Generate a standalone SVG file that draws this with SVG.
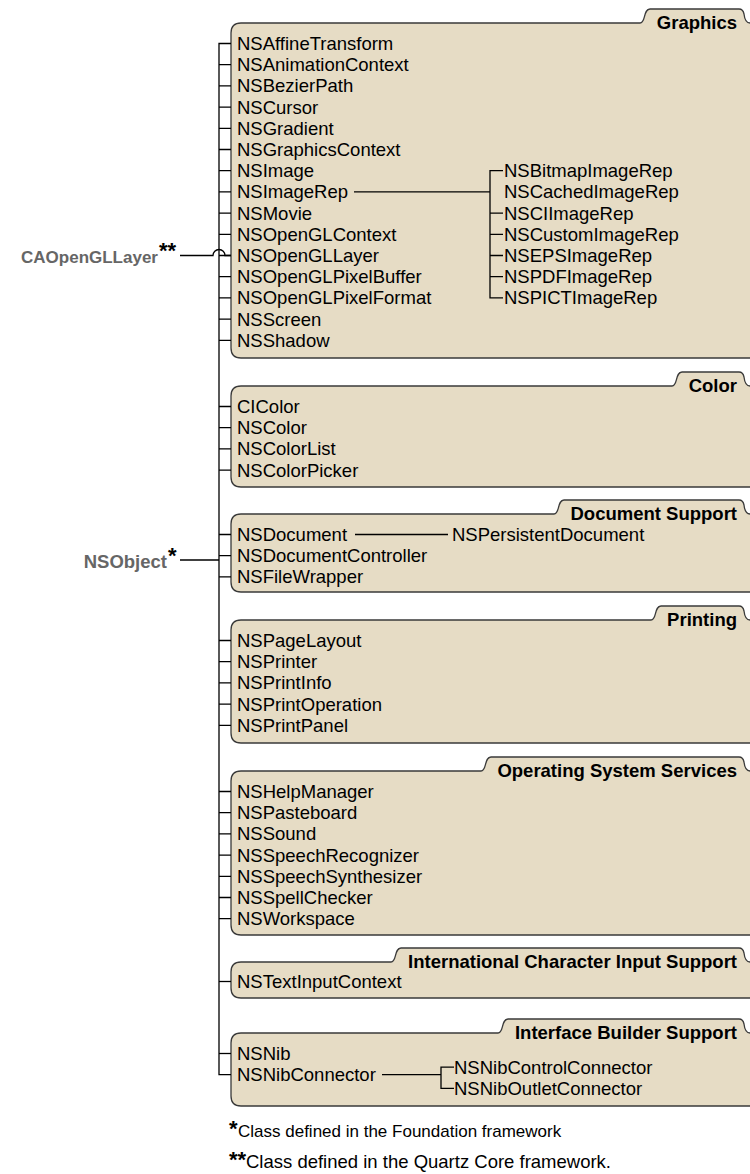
<svg xmlns="http://www.w3.org/2000/svg" width="750" height="1174" viewBox="0 0 750 1174">
<style>
.box{fill:#E6DCC5;stroke:#3a3a3a;stroke-width:1.3}
.t{font-family:"Liberation Sans",Arial,sans-serif;font-size:18.5px;fill:#000}
.fn{font-family:"Liberation Sans",Arial,sans-serif;font-size:17px;fill:#000}
.tab{font-family:"Liberation Sans",Arial,sans-serif;font-size:18.5px;font-weight:bold;fill:#000;text-anchor:end}
.root{font-family:"Liberation Sans",Arial,sans-serif;font-size:18.5px;font-weight:bold;fill:#666;text-anchor:end}
.ast{font-family:"Liberation Sans",Arial,sans-serif;font-size:22px;font-weight:bold;fill:#000}
.c{fill:none;stroke:#000;stroke-width:1.3}
</style>
<rect width="750" height="1174" fill="#fff"/>

<g id="graphics">
<path class="box" d="M231,33 Q231,23 241,23 L640,23 C646,23 643,9 650,9 L739,9 Q743,9 744,14 Q745,23 750,23 L752,23 L752,358 L241,358 Q231,358 231,348 Z"/>
<text class="tab" x="737" y="28.5">Graphics</text>
<text class="t" x="237" y="50">NSAffineTransform</text>
<text class="t" x="237" y="71.2">NSAnimationContext</text>
<text class="t" x="237" y="92.4">NSBezierPath</text>
<text class="t" x="237" y="113.6">NSCursor</text>
<text class="t" x="237" y="134.8">NSGradient</text>
<text class="t" x="237" y="156">NSGraphicsContext</text>
<text class="t" x="237" y="177.2">NSImage</text>
<text class="t" x="237" y="198.4">NSImageRep</text>
<text class="t" x="237" y="219.6">NSMovie</text>
<text class="t" x="237" y="240.8">NSOpenGLContext</text>
<text class="t" x="237" y="262">NSOpenGLLayer</text>
<text class="t" x="237" y="283.2">NSOpenGLPixelBuffer</text>
<text class="t" x="237" y="304.4">NSOpenGLPixelFormat</text>
<text class="t" x="237" y="325.6">NSScreen</text>
<text class="t" x="237" y="346.8">NSShadow</text>
<text class="t" x="504" y="177.2">NSBitmapImageRep</text>
<text class="t" x="504" y="198.4">NSCachedImageRep</text>
<text class="t" x="504" y="219.6">NSCIImageRep</text>
<text class="t" x="504" y="240.8">NSCustomImageRep</text>
<text class="t" x="504" y="262">NSEPSImageRep</text>
<text class="t" x="504" y="283.2">NSPDFImageRep</text>
<text class="t" x="504" y="304.4">NSPICTImageRep</text>
</g>

<g id="color">
<path class="box" d="M231,396 Q231,386 241,386 L672,386 C678,386 675,372 682,372 L739,372 Q743,372 744,377 Q745,386 750,386 L752,386 L752,487 L241,487 Q231,487 231,477 Z"/>
<text class="tab" x="737" y="391.5">Color</text>
<text class="t" x="237" y="413">CIColor</text>
<text class="t" x="237" y="434.2">NSColor</text>
<text class="t" x="237" y="455.4">NSColorList</text>
<text class="t" x="237" y="476.6">NSColorPicker</text>
</g>

<g id="document">
<path class="box" d="M231,524 Q231,514 241,514 L554,514 C560,514 557,500 564,500 L739,500 Q743,500 744,505 Q745,514 750,514 L752,514 L752,592 L241,592 Q231,592 231,582 Z"/>
<text class="tab" x="737" y="519.5">Document Support</text>
<text class="t" x="237" y="541">NSDocument</text>
<text class="t" x="237" y="562.2">NSDocumentController</text>
<text class="t" x="237" y="583.4">NSFileWrapper</text>
<text class="t" x="452" y="541">NSPersistentDocument</text>
</g>

<g id="printing">
<path class="box" d="M231,630 Q231,620 241,620 L651,620 C657,620 654,606 661,606 L739,606 Q743,606 744,611 Q745,620 750,620 L752,620 L752,743 L241,743 Q231,743 231,733 Z"/>
<text class="tab" x="737" y="625.5">Printing</text>
<text class="t" x="237" y="647">NSPageLayout</text>
<text class="t" x="237" y="668.2">NSPrinter</text>
<text class="t" x="237" y="689.4">NSPrintInfo</text>
<text class="t" x="237" y="710.6">NSPrintOperation</text>
<text class="t" x="237" y="731.8">NSPrintPanel</text>
</g>

<g id="os-services">
<path class="box" d="M231,781 Q231,771 241,771 L481,771 C487,771 484,757 491,757 L739,757 Q743,757 744,762 Q745,771 750,771 L752,771 L752,935 L241,935 Q231,935 231,925 Z"/>
<text class="tab" x="737" y="776.5">Operating System Services</text>
<text class="t" x="237" y="798">NSHelpManager</text>
<text class="t" x="237" y="819.2">NSPasteboard</text>
<text class="t" x="237" y="840.4">NSSound</text>
<text class="t" x="237" y="861.6">NSSpeechRecognizer</text>
<text class="t" x="237" y="882.8">NSSpeechSynthesizer</text>
<text class="t" x="237" y="904">NSSpellChecker</text>
<text class="t" x="237" y="925.2">NSWorkspace</text>
</g>

<g id="intl-input">
<path class="box" d="M231,972 Q231,962 241,962 L391,962 C397,962 394,948 401,948 L739,948 Q743,948 744,953 Q745,962 750,962 L752,962 L752,998 L241,998 Q231,998 231,988 Z"/>
<text class="tab" x="737" y="967.5">International Character Input Support</text>
<text class="t" x="237" y="988">NSTextInputContext</text>
</g>

<g id="ib-support">
<path class="box" d="M231,1043 Q231,1033 241,1033 L498,1033 C504,1033 501,1019 508,1019 L739,1019 Q743,1019 744,1024 Q745,1033 750,1033 L752,1033 L752,1106 L241,1106 Q231,1106 231,1096 Z"/>
<text class="tab" x="737" y="1038.5">Interface Builder Support</text>
<text class="t" x="237" y="1060">NSNib</text>
<text class="t" x="237" y="1081.2">NSNibConnector</text>
<text class="t" x="454" y="1073.6">NSNibControlConnector</text>
<text class="t" x="454" y="1094.8">NSNibOutletConnector</text>
</g>

<g id="caopengllayer">
<text class="root" style="font-size:17px" x="158" y="263">CAOpenGLLayer</text>
<text class="ast" x="159" y="258">**</text>
</g>
<g id="nsobject">
<text class="root" x="167" y="568">NSObject</text>
<text class="ast" x="168" y="563">*</text>
</g>

<g id="connectors" class="c">
<path d="M231,43.5 H219 V1074.7 H231"/>
<path d="M219,64.7 H231 M219,85.9 H231 M219,107.1 H231 M219,128.3 H231 M219,149.5 H231 M219,170.7 H231 M219,191.9 H231 M219,213.1 H231 M219,234.3 H231 M219,255.5 H231 M219,276.7 H231 M219,297.9 H231 M219,319.1 H231 M219,340.3 H231"/>
<path d="M219,406.5 H231 M219,427.7 H231 M219,448.9 H231 M219,470.1 H231"/>
<path d="M219,534.5 H231 M219,555.7 H231 M219,576.9 H231"/>
<path d="M219,640.5 H231 M219,661.7 H231 M219,682.9 H231 M219,704.1 H231 M219,725.3 H231"/>
<path d="M219,791.5 H231 M219,812.7 H231 M219,833.9 H231 M219,855.1 H231 M219,876.3 H231 M219,897.5 H231 M219,918.7 H231"/>
<path d="M219,981.5 H231"/>
<path d="M219,1053.5 H231"/>
<path d="M354,191.9 H490 M503,170.7 H490 V297.9 H503 M490,213.1 H503 M490,234.3 H503 M490,255.5 H503 M490,276.7 H503"/>
<path d="M355,534.5 H448"/>
<path d="M382,1074.7 H441 M454,1067.1 H441 V1088.3 H454"/>
<path d="M180,255.5 H213 A6,6 0 0 1 225,255.5 H231"/>
<path d="M180,560 H219"/>
</g>

<g id="footnotes">
<text class="ast" x="229" y="1136">*</text>
<text class="fn" x="238" y="1137">Class defined in the Foundation framework</text>
<text class="ast" x="229" y="1167">**</text>
<text class="fn" style="font-size:18.5px" x="246" y="1168">Class defined in the Quartz Core framework.</text>
</g>
</svg>
